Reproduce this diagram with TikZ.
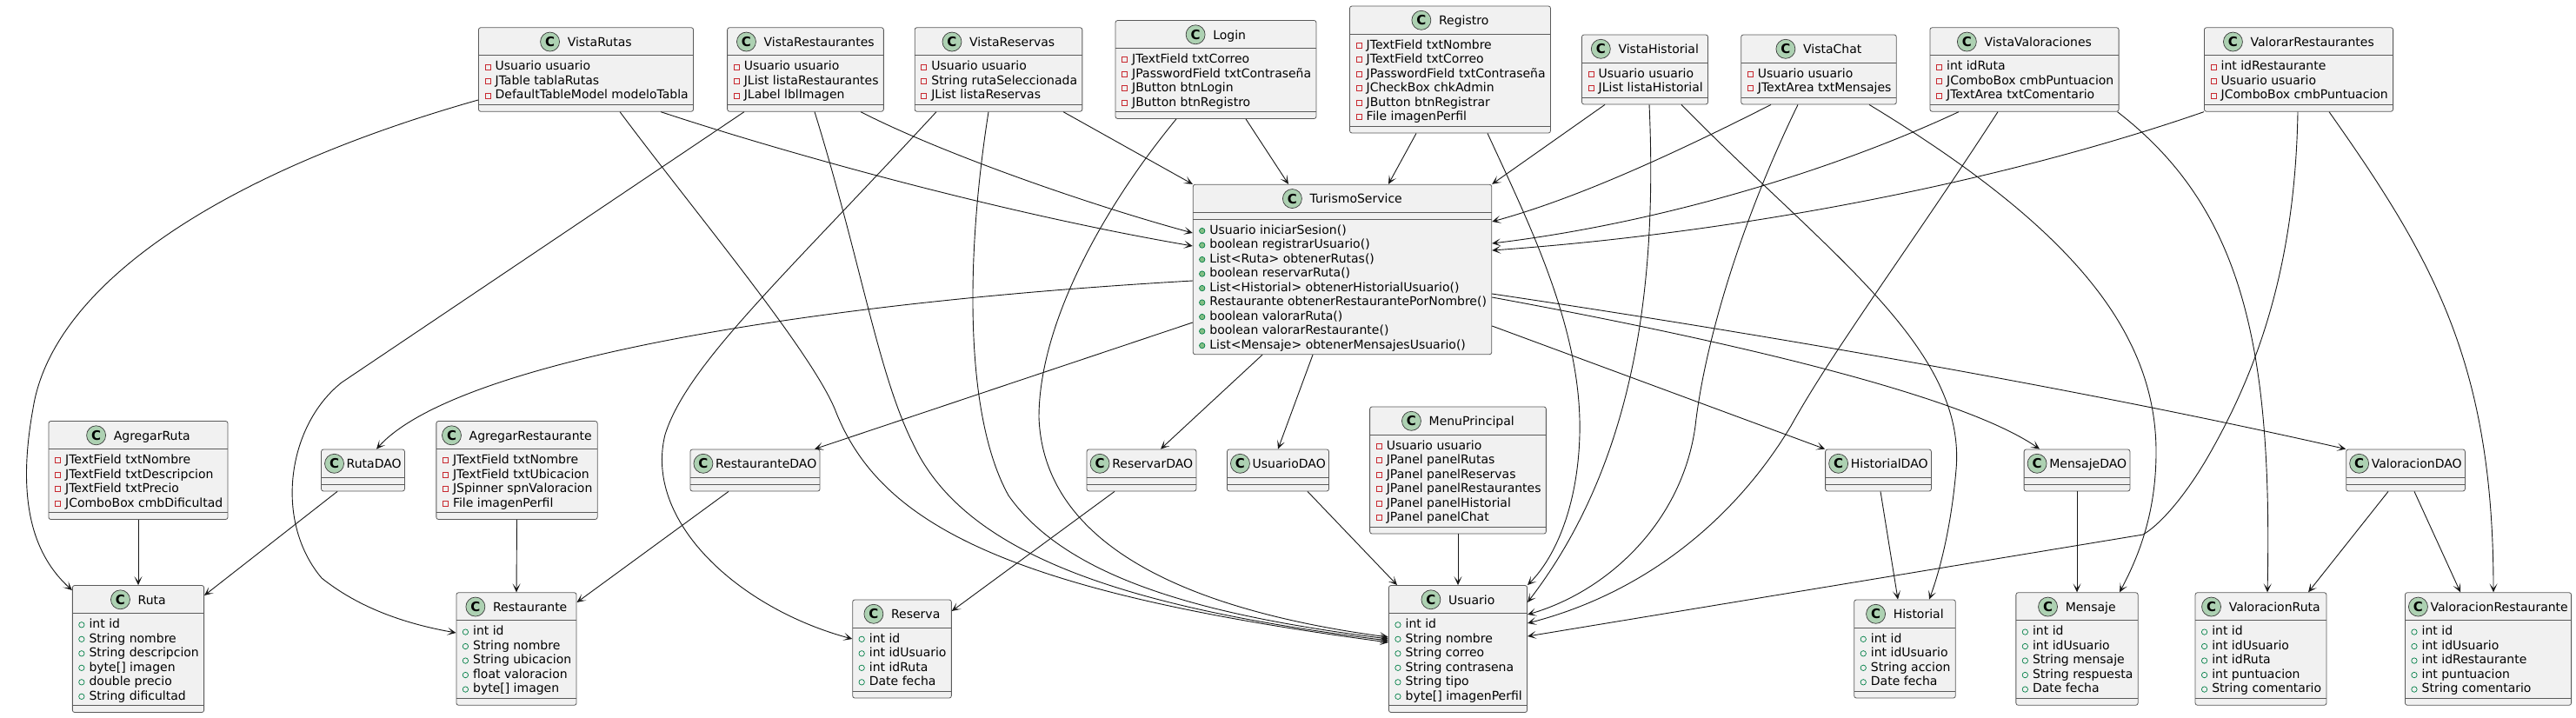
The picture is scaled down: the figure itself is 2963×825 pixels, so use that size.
\documentclass[tikz,border=0pt]{standalone}
\usepackage{fontspec}
\setmainfont{DejaVu Sans}
\usetikzlibrary{arrows.meta}
\definecolor{boxfill}{HTML}{F1F1F1}
\definecolor{boxline}{HTML}{5A5A5A}
\definecolor{edgecol}{HTML}{181818}
\definecolor{cfill}{HTML}{ADD1B2}
\definecolor{cline}{HTML}{3C3C3C}
\definecolor{privred}{HTML}{C82930}
\definecolor{pubgreen}{HTML}{038048}
\definecolor{methfill}{HTML}{84BE84}
\newlength\clsw
\newlength\tmpw
\newlength\namew
\newcount\nlines
\newcommand\namefont{\fontsize{14}{16}\selectfont}
\newcommand\attrfont{\fontsize{14}{16}\selectfont}
\newcommand\cfont{\fontsize{15}{15}\selectfont\bfseries}
\newcommand\measureto[2]{\pgfinterruptpicture\normalfont\setbox0=\hbox{#2}\global#1=\wd0\endpgfinterruptpicture}
\tikzset{
  classbox/.style={draw=boxline, fill=boxfill, line width=0.8pt, rounded corners=2.5pt, inner sep=0pt},
  sepline/.style={draw=boxline, line width=0.8pt},
  cmark/.style={circle, fill=cfill, draw=cline, line width=0.7pt, minimum size=22pt, inner sep=0pt, font=\cfont},
  edge/.style={draw=edgecol, line width=0.9pt, -{Stealth[length=10pt,width=9pt,inset=5.5pt]}},
}
\newcommand\umlicon[3]{\ifcase#1\or
  \draw[privred, line width=0.7pt] (#2,#3) ++(-3,-3) rectangle ++(6,6);\or
  \draw[pubgreen, line width=0.7pt] (#2,#3) circle[radius=3.2pt];\or
  \draw[pubgreen, fill=methfill, line width=0.7pt] (#2,#3) circle[radius=3.2pt];\fi}
\makeatletter
\newcommand\umlclass[6]{%
  \global\clsw=0pt \global\nlines=0 %
  \def\cls@list{#6}%
  \ifx\cls@list\@empty\else
    \foreach \clsline in {#6}{\measureto\tmpw{\attrfont\clsline}\ifdim\tmpw>\clsw\global\clsw=\tmpw\fi\global\advance\nlines by 1\relax}%
  \fi
  \measureto\namew{\namefont #4}%
  \pgfmathsetmacro\cW{max(\namew+33,\clsw+25)}%
  \pgfmathsetmacro\cG{min(9,\cW-30-\namew)}%
  \pgfmathsetmacro\cN{\the\nlines}%
  \ifnum#5=3\relax
    \def\cA{8}\pgfmathsetmacro\cM{\cN>0 ? \cN*16.5+7 : 8}%
  \else
    \pgfmathsetmacro\cA{\cN>0 ? \cN*16.5+7 : 8}\def\cM{8}%
  \fi
  \pgfmathsetmacro\cH{32+\cA+\cM}%
  \pgfmathsetmacro\cL{#2-\cW/2}%
  \pgfmathsetmacro\cT{#3-\cH/2}%
  \node[classbox, minimum width=\cW pt, minimum height=\cH pt] (#1) at (#2,#3) {};
  \draw[sepline] (\cL,\cT+32) -- ++(\cW,0);
  \draw[sepline] (\cL,\cT+32+\cA) -- ++(\cW,0);
  \pgfmathsetmacro\cgx{#2-(22+\cG+\namew)/2}%
  \node[cmark] at (\cgx+11,\cT+16.3) {C};
  \node[anchor=base west, inner sep=0pt, font=\namefont] at (\cgx+22+\cG,\cT+21.5) {#4};
  \ifx\cls@list\@empty\else
    \ifnum#5=3\relax\pgfmathsetmacro\cS{\cT+32+\cA}\else\pgfmathsetmacro\cS{\cT+32}\fi
    \foreach \clsline [count=\ci] in {#6}{%
      \pgfmathsetmacro\cby{\cS+17+16.5*(\ci-1)}%
      \node[anchor=base west, inner sep=0pt, font=\attrfont] at (\cL+19,\cby) {\clsline};
      \umlicon{#5}{\cL+10.5}{\cby-3.7}
    }%
  \fi
}
\makeatother
\begin{document}
\begin{tikzpicture}[x=1pt, y=-1pt]
\fill[white] (0,0) rectangle (2963,825);
\useasboundingbox (0,0) rectangle (2963,825);
% top row
\umlclass{vrutas}{674}{80}{VistaRutas}{1}{Usuario usuario, JTable tablaRutas, DefaultTableModel modeloTabla}
\umlclass{vrest}{926.5}{80}{VistaRestaurantes}{1}{Usuario usuario, JList listaRestaurantes, JLabel lblImagen}
\umlclass{vres}{1148.5}{80}{VistaReservas}{1}{Usuario usuario, String rutaSeleccionada, JList listaReservas}
\umlclass{login}{1398.5}{80}{Login}{1}{JTextField txtCorreo, JPasswordField txtContraseña, JButton btnLogin, JButton btnRegistro}
\umlclass{registro}{1668}{80}{Registro}{1}{JTextField txtNombre, JTextField txtCorreo, JPasswordField txtContraseña, JCheckBox chkAdmin, JButton btnRegistrar, File imagenPerfil}
\umlclass{vhist}{1892}{80}{VistaHistorial}{1}{Usuario usuario, JList listaHistorial}
\umlclass{vchat}{2092}{80}{VistaChat}{1}{Usuario usuario, JTextArea txtMensajes}
\umlclass{vval}{2328.5}{80}{VistaValoraciones}{1}{int idRuta, JComboBox cmbPuntuacion, JTextArea txtComentario}
\umlclass{valrest}{2644}{80}{ValorarRestaurantes}{1}{int idRestaurante, Usuario usuario, JComboBox cmbPuntuacion}
% service
\umlclass{ts}{1544}{310}{TurismoService}{3}{Usuario iniciarSesion(), boolean registrarUsuario(), List<Ruta> obtenerRutas(), boolean reservarRuta(), List<Historial> obtenerHistorialUsuario(), Restaurante obtenerRestaurantePorNombre(), boolean valorarRuta(), boolean valorarRestaurante(), List<Mensaje> obtenerMensajesUsuario()}
% middle row
\umlclass{agruta}{159}{541}{AgregarRuta}{1}{JTextField txtNombre, JTextField txtDescripcion, JTextField txtPrecio, JComboBox cmbDificultad}
\umlclass{rutadao}{417.5}{541}{RutaDAO}{0}{}
\umlclass{agrest}{594.5}{541}{AgregarRestaurante}{1}{JTextField txtNombre, JTextField txtUbicacion, JSpinner spnValoracion, File imagenPerfil}
\umlclass{restdao}{868.5}{541}{RestauranteDAO}{0}{}
\umlclass{resdao}{1313}{541}{ReservarDAO}{0}{}
\umlclass{usudao}{1470}{541}{UsuarioDAO}{0}{}
\umlclass{menu}{1677}{541}{MenuPrincipal}{1}{Usuario usuario, JPanel panelRutas, JPanel panelReservas, JPanel panelRestaurantes, JPanel panelHistorial, JPanel panelChat}
\umlclass{histdao}{2160.5}{541}{HistorialDAO}{0}{}
\umlclass{mensdao}{2389}{541}{MensajeDAO}{0}{}
\umlclass{valdao}{2767}{541}{ValoracionDAO}{0}{}
% bottom row
\umlclass{ruta}{159}{746.5}{Ruta}{2}{int id, String nombre, String descripcion, byte[] imagen, double precio, String dificultad}
\umlclass{rest}{594}{746.5}{Restaurante}{2}{int id, String nombre, String ubicacion, float valoracion, byte[] imagen}
\umlclass{reserva}{1037.5}{746.5}{Reserva}{2}{int id, int idUsuario, int idRuta, Date fecha}
\umlclass{usuario}{1677}{746.5}{Usuario}{2}{int id, String nombre, String correo, String contrasena, String tipo, byte[] imagenPerfil}
\umlclass{hist}{2191}{746.5}{Historial}{2}{int id, int idUsuario, String accion, Date fecha}
\umlclass{mensaje}{2389}{746.5}{Mensaje}{2}{int id, int idUsuario, String mensaje, String respuesta, Date fecha}
\umlclass{valruta}{2600.5}{746.5}{ValoracionRuta}{2}{int id, int idUsuario, int idRuta, int puntuacion, String comentario}
\umlclass{valrestc}{2862}{746.5}{ValoracionRestaurante}{2}{int id, int idUsuario, int idRestaurante, int puntuacion, String comentario}
% ---------------- connectors
% VistaRutas
\draw[edge] ([yshift=-35]vrutas.west) .. controls (250,200) and (60,330) .. (38,470) .. controls (18,580) and (40,640) .. ([yshift=-6]ruta.north west);
\draw[edge] ([xshift=86]vrutas.south) .. controls (900,175) and (1150,245) .. ([yshift=27]ts.west);
\draw[edge] ([xshift=39]vrutas.south) .. controls (800,245) and (930,400) .. (960,470) .. controls (1010,600) and (1150,680) .. ([yshift=7.5]usuario.west);
% VistaRestaurantes
\draw[edge] ([xshift=-70.5]vrest.south) -- (393,440) .. controls (330,490) and (315,600) .. (370,665) .. controls (420,705) and (480,720) .. ([yshift=18.5]rest.west);
\draw[edge] ([xshift=63.5]vrest.south) .. controls (1080,175) and (1250,235) .. ([yshift=42]ts.west);
\draw[edge] ([xshift=10.5]vrest.south) .. controls (990,300) and (1010,430) .. (1050,510) .. controls (1110,640) and (1300,700) .. ([yshift=9.5]usuario.west);
% VistaReservas
\draw[edge] ([xshift=-71.5]vres.south) .. controls (900,320) and (790,420) .. (765,500) .. controls (740,600) and (850,700) .. ([yshift=11.5]reserva.west);
\draw[edge] ([xshift=74.5]vres.south) -- (ts.north west);
\draw[edge] ([xshift=-11.5]vres.south) .. controls (1110,300) and (1110,480) .. (1160,570) .. controls (1230,670) and (1400,710) .. ([yshift=11.5]usuario.west);
% Login
\draw[edge] ([xshift=34.5]login.south) -- ([xshift=-62]ts.north);
\draw[edge] ([xshift=-45.5]login.south) .. controls (1260,250) and (1195,380) .. (1195,480) .. controls (1200,620) and (1350,700) .. ([yshift=13.5]usuario.west);
% Registro
\draw[edge] ([xshift=-39]registro.south) -- ([xshift=53]ts.north);
\draw[edge] ([xshift=43]registro.south) .. controls (1760,260) and (1820,380) .. (1817,500) .. controls (1815,580) and (1790,640) .. (usuario.north east);
% VistaHistorial
\draw[edge] ([xshift=-46]vhist.south) -- (ts.north east);
\draw[edge] ([xshift=5]vhist.south) .. controls (1905,300) and (1890,520) .. ([yshift=53.5]usuario.east);
\draw[edge] ([xshift=42]vhist.south) .. controls (2100,290) and (2262,400) .. (2250,540) .. controls (2244,610) and (2230,660) .. ([xshift=28]hist.north);
% VistaChat
\draw[edge] ([xshift=-55]vchat.south) .. controls (1900,190) and (1800,232) .. ([yshift=55]ts.east);
\draw[edge] ([xshift=-24]vchat.south) .. controls (2000,260) and (1960,400) .. (1950,490) .. controls (1935,600) and (1850,680) .. ([yshift=39.5]usuario.east);
\draw[edge] ([xshift=58]vchat.south) .. controls (2380,260) and (2480,380) .. (2480,520) .. controls (2480,590) and (2460,640) .. ([xshift=49]mensaje.north);
% VistaValoraciones
\draw[edge] ([xshift=-75.5]vval.south) .. controls (2100,200) and (1900,258) .. ([yshift=30]ts.east);
\draw[edge] ([xshift=-30.5]vval.south) .. controls (2200,280) and (2110,400) .. (2060,490) .. controls (2000,590) and (1900,680) .. ([yshift=29.5]usuario.east);
\draw[edge] ([xshift=-2]vval.south east) .. controls (2580,240) and (2614,400) .. ([xshift=7.5]valruta.north);
% ValorarRestaurantes
\draw[edge] (valrest.south west) .. controls (2300,210) and (2000,268) .. ([yshift=22]ts.east);
\draw[edge] ([xshift=-1]valrest.south) .. controls (2640,300) and (2600,420) .. (2541,523) .. controls (2520,560) and (2490,600) .. (2465,615) -- ([yshift=14.5]usuario.east);
\draw[edge] ([xshift=35]valrest.south) .. controls (2800,300) and (2868,420) .. ([xshift=6]valrestc.north);
% TurismoService to DAOs
\draw[edge] ([yshift=-13]ts.west) .. controls (900,350) and (520,420) .. ([xshift=15.5]rutadao.north);
\draw[edge] ([yshift=-61]ts.west) -- ([xshift=68.5]restdao.north);
\draw[edge] ([xshift=-92]ts.south) -- ([xshift=22]resdao.north);
\draw[edge] ([xshift=-34]ts.south) -- (usudao.north);
\draw[edge] ([yshift=-65]ts.east) -- (histdao.north west);
\draw[edge] ([yshift=-32]ts.east) .. controls (1950,385) and (2250,450) .. ([xshift=-43]mensdao.north);
\draw[edge] ([yshift=-28]ts.east) .. controls (2100,395) and (2450,460) .. (valdao.north west);
% lower connectors
\draw[edge] (agruta.south) -- (ruta.north);
\draw[edge] ([xshift=-29.5]rutadao.south) -- ([yshift=61.5]ruta.east);
\draw[edge] (agrest.south) -- (rest.north);
\draw[edge] ([xshift=-30.5]restdao.south) -- ([yshift=53.5]rest.east);
\draw[edge] ([xshift=-31]resdao.south) -- ([yshift=43.5]reserva.east);
\draw[edge] ([xshift=34]usudao.south) -- ([xshift=-70]usuario.north);
\draw[edge] (menu.south) -- (usuario.north);
\draw[edge] ([xshift=2.5]histdao.south) -- ([xshift=-8]hist.north);
\draw[edge] (mensdao.south) -- (mensaje.north);
\draw[edge] ([xshift=-20]valdao.south) -- ([xshift=54.5]valruta.north);
\draw[edge] ([xshift=10]valdao.south) -- ([xshift=-32]valrestc.north);
\end{tikzpicture}
\end{document}
